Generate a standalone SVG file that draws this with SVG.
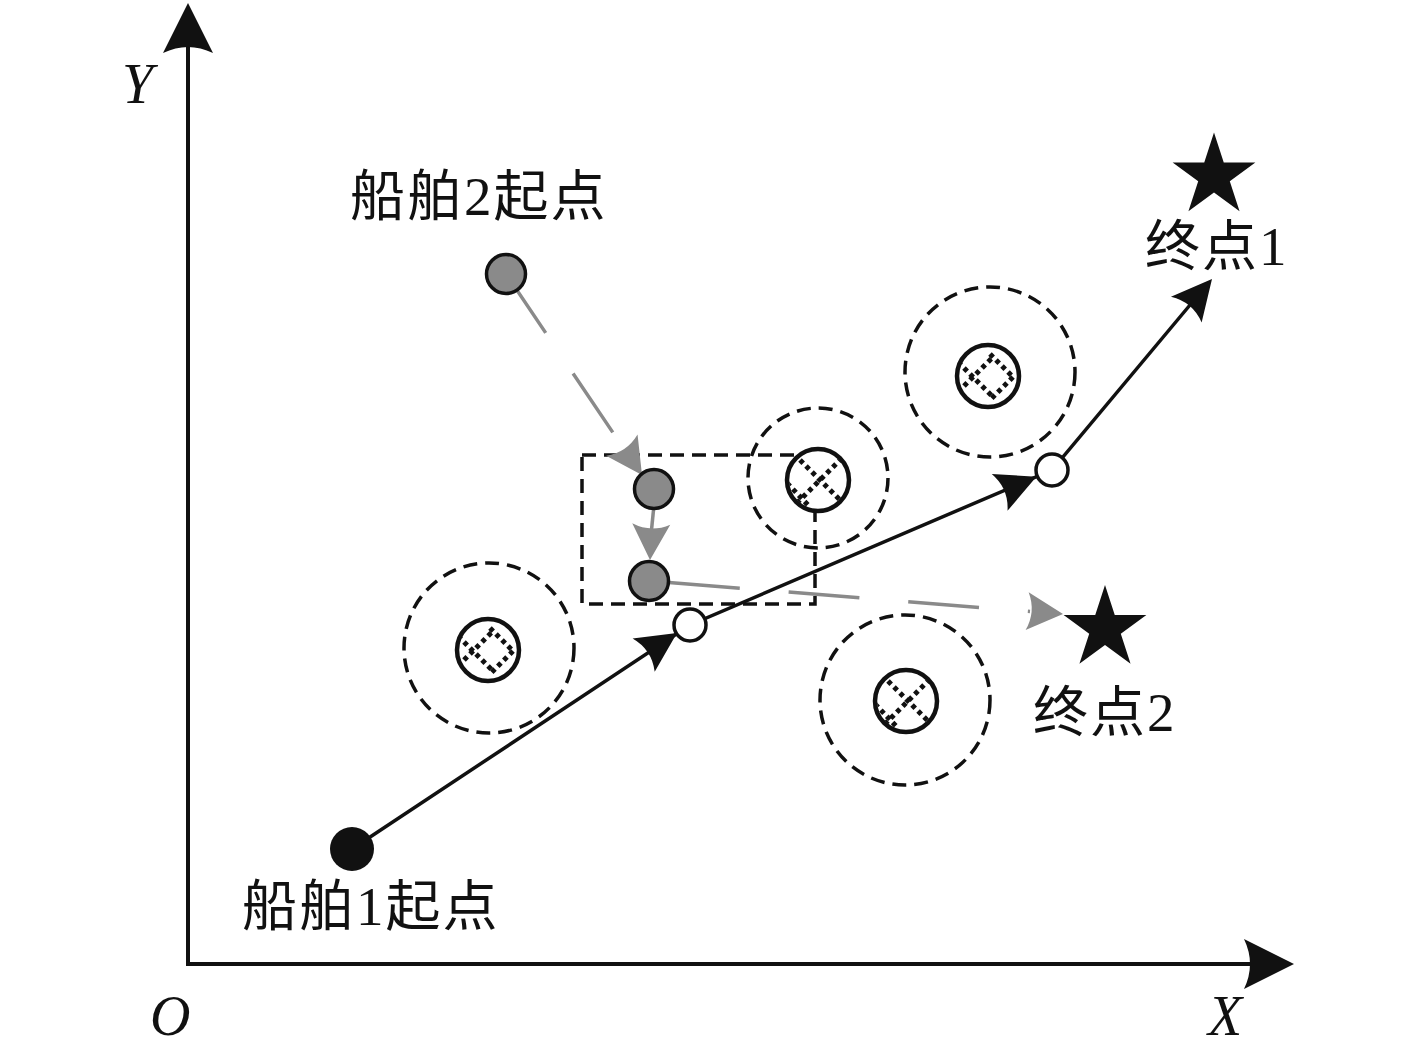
<svg xmlns="http://www.w3.org/2000/svg" xmlns:xlink="http://www.w3.org/1999/xlink" width="1417" height="1058" viewBox="0 0 1417 1058">
<style>
.axis{stroke:#111;stroke-width:4;fill:none}
.path1{stroke:#111;stroke-width:3.5;fill:none}
.path2{stroke:#8a8a8a;stroke-width:3.5;fill:none;stroke-dasharray:71 49}
.zone{stroke:#111;stroke-width:3.5;fill:none;stroke-dasharray:14 8}
.obst{stroke:#111;stroke-width:4.5;fill:#fff}
.hatch{stroke:#111;stroke-width:5;stroke-dasharray:4.5 4;fill:none}
.ship2{fill:#8a8a8a;stroke:#111;stroke-width:3.5}
.way{fill:#fff;stroke:#111;stroke-width:3.5}
.blk{fill:#111}
.gry{fill:#8a8a8a}
.lbl{font-family:"Liberation Serif","Noto Sans CJK SC",serif;font-size:55px;fill:#111;letter-spacing:2px}
.ax{font-family:"Liberation Serif",serif;font-style:italic;font-size:56px;fill:#111}
</style>
<defs>
<path id="ahAxis" d="M0,0 L-50,-25 Q-38,0 -50,25 Z"/>
<path id="ah" d="M0,0 L-40,-20 Q-30,0 -40,20 Z"/>
<path id="ahG" d="M0,0 L-36,-19 Q-27,0 -36,19 Z"/>
<polygon id="star" points="0,-43.5 9.76,-13.43 41.37,-13.44 15.79,5.13 25.57,35.19 0,16.6 -25.57,35.19 -15.79,5.13 -41.37,-13.44 -9.76,-13.43"/>
<clipPath id="cc"><circle cx="0" cy="0" r="29"/></clipPath>
<g id="patDiamond" clip-path="url(#cc)">
<line class="hatch" x1="-30" y1="-14" x2="6" y2="22"/>
<line class="hatch" x1="-30" y1="16" x2="6" y2="-20"/>
<line class="hatch" x1="2" y1="-22" x2="25" y2="1"/>
<line class="hatch" x1="25" y1="1" x2="2" y2="24"/>
</g>
<g id="patCross" clip-path="url(#cc)">
<line class="hatch" x1="-24" y1="-26" x2="24" y2="22"/>
<line class="hatch" x1="24" y1="-22" x2="-22" y2="24"/>
<line class="hatch" x1="-31" y1="3" x2="-9" y2="26"/>
</g>
</defs>

<g id="axes">
<line class="axis" x1="188" y1="966" x2="188" y2="45"/>
<line class="axis" x1="186" y1="964" x2="1250" y2="964"/>
<use xlink:href="#ahAxis" class="blk" transform="translate(188,3) rotate(-90)"/>
<use xlink:href="#ahAxis" class="blk" transform="translate(1294,964)"/>
<text class="ax" x="122" y="103">Y</text>
<text class="ax" x="150" y="1035">O</text>
<text class="ax" x="1208" y="1035">X</text>
</g>

<g id="zones">
<circle class="zone" cx="489" cy="648" r="85"/>
<circle class="zone" cx="818" cy="478" r="70"/>
<circle class="zone" cx="990" cy="372" r="85"/>
<circle class="zone" cx="905" cy="700" r="85"/>
<rect id="conflict-box" class="zone" x="582" y="455" width="233" height="149"/>
</g>

<g id="obstacle1"><circle class="obst" cx="488" cy="650" r="31"/><use xlink:href="#patDiamond" transform="translate(488,650)"/></g>
<g id="obstacle2"><circle class="obst" cx="818" cy="480" r="31"/><use xlink:href="#patCross" transform="translate(818,480)"/></g>
<g id="obstacle3"><circle class="obst" cx="988" cy="376" r="31"/><use xlink:href="#patDiamond" transform="translate(988,376)"/></g>
<g id="obstacle4"><circle class="obst" cx="906" cy="701" r="31"/><use xlink:href="#patCross" transform="translate(906,701)"/></g>

<g id="connectors">
<polyline class="path1" points="352,849 690,625 1052,470 1195,299"/>
<use xlink:href="#ah" class="blk" transform="translate(677,633) rotate(-33.54)"/>
<use xlink:href="#ah" class="blk" transform="translate(1036.4,476.7) rotate(-23.18)"/>
<use xlink:href="#ah" class="blk" transform="translate(1212,279) rotate(-50.04)"/>
<line class="path2" x1="506" y1="274" x2="624" y2="449"/>
<use xlink:href="#ahG" class="gry" transform="translate(642,475) rotate(55.9)"/>
<line x1="654" y1="505" x2="651.5" y2="530" stroke="#8a8a8a" stroke-width="3.5"/>
<use xlink:href="#ahG" class="gry" transform="translate(650,560) rotate(92)"/>
<line class="path2" x1="669" y1="582.5" x2="1030" y2="611.5"/>
<use xlink:href="#ahG" class="gry" transform="translate(1063,614) rotate(4.63)"/>
</g>

<g id="ship1-start"><circle class="blk" cx="352" cy="849" r="22"/><text class="lbl" x="242" y="925">船舶1起点</text></g>
<g id="waypoint1"><circle class="way" cx="690" cy="625" r="16"/></g>
<g id="waypoint2"><circle class="way" cx="1052" cy="470" r="16"/></g>
<g id="ship2-start"><circle class="ship2" cx="506" cy="274" r="19.5"/><text class="lbl" x="350" y="215">船舶2起点</text></g>
<g id="ship2-pos1"><circle class="ship2" cx="654" cy="489" r="19.5"/></g>
<g id="ship2-pos2"><circle class="ship2" cx="649" cy="581" r="19.5"/></g>
<g id="goal1"><use xlink:href="#star" class="blk" transform="translate(1214,176)"/><text class="lbl" x="1145" y="265">终点1</text></g>
<g id="goal2"><use xlink:href="#star" class="blk" transform="translate(1105,628.5)"/><text class="lbl" x="1033" y="731">终点2</text></g>
</svg>
